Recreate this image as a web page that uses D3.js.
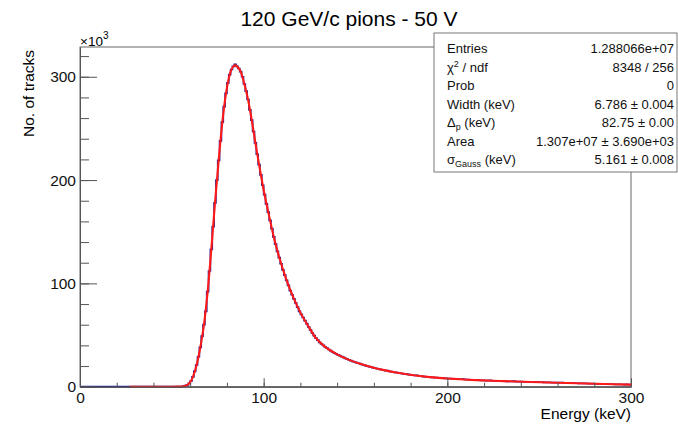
<!DOCTYPE html>
<html lang="en">
<head>
<meta charset="UTF-8">
<title>120 GeV/c pions - 50 V</title>
<style>
  body { margin: 0; background: #fff; }
  svg { font-family: "Liberation Sans", Arial, Helvetica, sans-serif; }
  .frame { fill: none; stroke: #666; stroke-width: 1; }
  .axis path, .axis line { stroke: #555; }
  .axis text { font-size: 15.5px; fill: #111; }
  .hist { fill: none; stroke: #23239a; stroke-width: 1.7; }
  .fit { fill: none; stroke: #ff1a1a; stroke-width: 2.1; }
  .stats rect { fill: #fff; stroke: #777; stroke-width: 1; }
  .stats text { font-size: 13px; fill: #111; }
</style>
</head>
<body>
<svg width="678" height="425"></svg>
<script src="https://d3js.org/d3.v7.min.js"></script>
<script>
// histogram contents, 1 keV bins, in units of 10^3 tracks
const countsLow = [   // 0 - 99 keV
  0, 0, 0, 0, 0, 0, 0, 0, 0, 0,
  0, 0, 0, 0, 0, 0, 0, 0, 0, 0,
  0, 0, 0, 0, 0, 0, 0, 0, 0, 0,
  0, 0, 0, 0, 0, 0, 0, 0, 0, 0,
  0, 0, 0, 0, 0, 0, 0, 0, 0, 0,
  0, 0, 0.02, 0.05, 0.1, 0.2, 0.5, 1.0, 1.8, 3.2,
  5.5, 9.5, 15, 21, 29, 38, 49, 60, 73, 92,
  112, 133, 155, 178, 200, 219, 238, 256, 271, 284,
  294, 302, 307, 310, 312, 310, 308, 305, 300, 293,
  286, 278, 268, 258, 247, 236, 225, 215, 205, 195
];
const countsMid = [   // 100 - 199 keV
  186, 177, 169, 161, 153, 145, 138, 131, 125, 119,
  113, 108, 103, 98, 93, 89, 85, 81, 77, 73,
  70, 67, 64, 61, 58, 55, 52, 49.5, 47, 45,
  43, 41.5, 40, 38.6, 37.3, 36, 34.9, 33.8, 32.8, 31.8,
  30.9, 30, 29.1, 28.3, 27.5, 26.7, 26, 25.3, 24.6, 23.9,
  23.3, 22.7, 22.4, 21.5, 21, 20.4, 19.9, 19.4, 18.9, 18.5,
  18, 17.6, 17.2, 16.8, 16.4, 16, 15.6, 15.5, 14.9, 14.5,
  14.2, 13.9, 13.6, 13.3, 13, 12.7, 12.4, 12.1, 11.9, 11.6,
  11.3, 11.1, 10.9, 10.9, 10.4, 10.2, 10, 9.8, 9.6, 9.4,
  9.3, 9.1, 9, 8.8, 8.7, 8.5, 8.6, 8.3, 8.1, 8
];
const countsHigh = [  // 200 - 299 keV
  7.9, 7.8, 7.7, 7.6, 7.5, 7.4, 7.3, 7.2, 7.4, 7.0,
  6.9, 6.8, 6.7, 6.6, 6.5, 6.4, 6.3, 6.25, 6.2, 6.1,
  6.0, 5.95, 5.9, 6.1, 5.75, 5.7, 5.6, 5.55, 5.5, 5.4,
  5.35, 5.3, 5.25, 5.2, 5.15, 5.1, 5.3, 5.0, 4.95, 4.9,
  4.85, 4.8, 4.75, 4.7, 4.65, 4.6, 4.55, 4.5, 4.45, 4.4,
  4.35, 4.5, 4.25, 4.2, 4.15, 4.1, 4.05, 4.0, 3.95, 3.9,
  3.85, 3.8, 4.0, 3.7, 3.65, 3.6, 3.55, 3.5, 3.45, 3.4,
  3.35, 3.3, 3.25, 3.2, 3.15, 3.3, 3.05, 3.0, 2.95, 2.9,
  2.85, 2.8, 2.75, 2.7, 2.65, 2.6, 2.55, 2.5, 2.45, 2.6,
  2.35, 2.3, 2.25, 2.2, 2.2, 2.15, 2.1, 2.3, 2.05, 2.0
];

// Landau (x) Gauss fit curve, read at bin centres
const fitKeV = [27, 40, 50, 53.5, 55.5, 57.5, 59.5, 61.5, 63.5, 65.5, 67.5, 69.5,
  71.5, 73.5, 75.5, 77.5, 79.5, 81.5, 83.5, 84.5, 85.5, 87.5, 89.5, 91.5, 93.5,
  95.5, 97.5, 99.5, 102.5, 105.5, 108.5, 112.5, 116.5, 120.5, 124.5, 128.5, 133.5,
  139.5, 145.5, 152.5, 160.5, 170.5, 180.5, 190.5, 200.5, 215.5, 230.5, 250.5, 270.5, 300];
const fitVal = [0, 0, 0, 0.05, 0.2, 1.0, 3.2, 9.5, 21, 38, 60, 92,
  133, 178, 219, 256, 284, 302, 310, 311, 310, 305, 293, 278, 258,
  236, 215, 195, 169, 145, 125, 103, 85, 70, 58, 47, 38.6,
  31.8, 26.7, 22.1, 18, 14.2, 11.3, 9.3, 7.9, 6.4, 5.35, 4.35, 3.35, 2.0];

const xMajor = [0, 100, 200, 300];
const yMajor = [0, 100, 200, 300];

const statLabels = ["Entries", "chi2", "Prob", "Width (keV)", "delta", "Area", "sigma"];
const statValues = ["1.288066e+07", "8348 / 256", "0", "6.786 \u00b1 0.004",
  "82.75 \u00b1 0.00", "1.307e+07 \u00b1 3.690e+03", "5.161 \u00b1 0.008"];

const counts = countsLow.concat(countsMid, countsHigh);
const binWidth = 1;

const svg = d3.select("svg");
const frame = { left: 80, right: 631, top: 47, bottom: 386.7 };

const x = d3.scaleLinear().domain([0, 300]).range([frame.left, frame.right]);
const y = d3.scaleLinear().domain([0, 328.8]).range([frame.bottom, frame.top]);

// title
svg.append("text")
  .attr("x", 349).attr("y", 26)
  .attr("text-anchor", "middle")
  .style("font-size", "21px")
  .text("120 GeV/c pions - 50 V");

// frame
svg.append("rect").attr("class", "frame")
  .attr("x", frame.left).attr("y", frame.top)
  .attr("width", frame.right - frame.left)
  .attr("height", frame.bottom - frame.top);

// histogram as steps
const histPts = counts.map((c, i) => [i * binWidth, c]);
histPts.push([counts.length * binWidth, counts[counts.length - 1]]);
svg.append("path").attr("class", "hist")
  .attr("d", d3.line().x(d => x(d[0])).y(d => y(d[1])).curve(d3.curveStepAfter)(histPts));

// fit
svg.append("path").attr("class", "fit")
  .attr("d", d3.line().x((d, i) => x(fitKeV[i])).y(d => y(d)).curve(d3.curveMonotoneX)(fitVal));

// axes: minor ticks first, then majors with labels
svg.append("g").attr("class", "axis")
  .attr("transform", `translate(0,${frame.bottom})`)
  .call(d3.axisBottom(x).tickValues(d3.range(0, 301, 20)).tickSizeInner(-4).tickSizeOuter(0).tickFormat(""));
svg.append("g").attr("class", "axis")
  .attr("transform", `translate(0,${frame.bottom})`)
  .call(d3.axisBottom(x).tickValues(xMajor).tickSizeInner(-8.5).tickSizeOuter(0).tickPadding(5));

svg.append("g").attr("class", "axis")
  .attr("transform", `translate(${frame.left},0)`)
  .call(d3.axisLeft(y).tickValues(d3.range(0, 321, 20)).tickSizeInner(-9).tickSizeOuter(0).tickFormat(""));
svg.append("g").attr("class", "axis")
  .attr("transform", `translate(${frame.left},0)`)
  .call(d3.axisLeft(y).tickValues(yMajor).tickSizeInner(-17).tickSizeOuter(0).tickPadding(4));

// x10^3 exponent
const expo = svg.append("text").attr("x", 80).attr("y", 46).style("font-size", "13.5px");
expo.append("tspan").text("\u00d710");
expo.append("tspan").attr("dy", -7).style("font-size", "10px").text("3");

// axis titles
svg.append("text")
  .attr("x", frame.right).attr("y", 419)
  .attr("text-anchor", "end")
  .style("font-size", "15.5px")
  .text("Energy (keV)");
svg.append("text")
  .attr("transform", `translate(33.5,${frame.top + 3}) rotate(-90)`)
  .attr("text-anchor", "end")
  .style("font-size", "15.5px")
  .text("No. of tracks");

// stats box
const stats = svg.append("g").attr("class", "stats");
stats.append("rect").attr("x", 434).attr("y", 33).attr("width", 243).attr("height", 139);
statLabels.forEach((lab, i) => {
  const yy = 53 + i * 18.5;
  const t = stats.append("text").attr("x", 447).attr("y", yy);
  if (lab === "chi2") {
    t.append("tspan").text("\u03c7");
    t.append("tspan").attr("dy", -5).style("font-size", "9px").text("2");
    t.append("tspan").attr("dy", 5).text(" / ndf");
  } else if (lab === "delta") {
    t.append("tspan").text("\u0394");
    t.append("tspan").attr("dy", 3).style("font-size", "9px").text("p");
    t.append("tspan").attr("dy", -3).text(" (keV)");
  } else if (lab === "sigma") {
    t.append("tspan").text("\u03c3");
    t.append("tspan").attr("dy", 3).style("font-size", "9px").text("Gauss");
    t.append("tspan").attr("dy", -3).text(" (keV)");
  } else {
    t.text(lab);
  }
  stats.append("text").attr("x", 674).attr("y", yy)
    .attr("text-anchor", "end").text(statValues[i]);
});
</script>
</body>
</html>
